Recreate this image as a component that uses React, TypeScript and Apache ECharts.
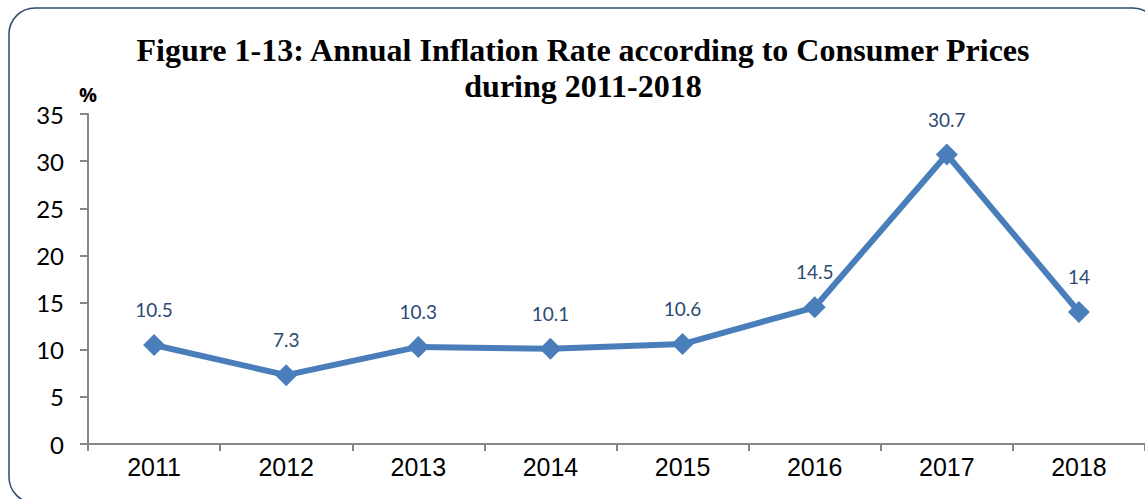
import React, { useEffect, useRef } from "react";
import * as echarts from "echarts";

const years = ["2011", "2012", "2013", "2014", "2015", "2016", "2017", "2018"];
const inflation = [10.5, 7.3, 10.3, 10.1, 10.6, 14.5, 30.7, 14];
const titleLines = ["Figure 1-13: Annual Inflation Rate according to Consumer Prices", "during 2011-2018"];

export default function App() {
  const ref = useRef<HTMLDivElement>(null);
  useEffect(() => {
    const chart = echarts.init(ref.current!, null, { renderer: "svg" });
    chart.setOption({
      animation: false,
      backgroundColor: "#ffffff",
      title: {
        text: titleLines.join("\n"),
        left: 578,
        textAlign: "center",
        top: 27,
        textStyle: {
          fontFamily: "Liberation Serif",
          fontWeight: "bold",
          fontSize: 32,
          lineHeight: 36,
          color: "#000000",
        },
      },
      graphic: [
        {
          type: "rect",
          shape: { x: 9, y: 8, width: 1150, height: 495, r: 26 },
          style: { fill: "none", stroke: "#2F4A70", lineWidth: 1.5 },
          z: -1,
        },
      ],
      grid: { left: 88, right: -12, top: 114, bottom: 55 },
      xAxis: {
        type: "category",
        data: years,
        boundaryGap: true,
        axisLine: { lineStyle: { color: "#868686", width: 2 } },
        axisTick: { show: true, length: 7, lineStyle: { color: "#868686", width: 2 } },
        axisLabel: { fontFamily: "Liberation Sans", fontSize: 25, color: "#000", margin: 10 },
      },
      yAxis: {
        type: "value",
        min: 0,
        max: 35,
        interval: 5,
        name: "%",
        nameLocation: "end",
        nameGap: 10,
        nameTextStyle: { fontFamily: "Open Sans", fontWeight: "bold", fontSize: 20, color: "#000", align: "center", padding: [0, 0, 0, 0] },
        splitLine: { show: false },
        axisLine: { show: true, lineStyle: { color: "#868686", width: 2 } },
        axisTick: { show: true, length: 8, lineStyle: { color: "#868686", width: 2 } },
        axisLabel: { fontFamily: "Lato", fontSize: 24, color: "#000", margin: 24 },
      },
      series: [
        {
          type: "line",
          data: inflation,
          symbol: "diamond",
          symbolSize: 22,
          lineStyle: { color: "#4A7EBB", width: 6 },
          itemStyle: { color: "#4A7EBB" },
          label: {
            show: true,
            position: "top",
            distance: 15,
            fontFamily: "Lato",
            fontSize: 19,
            color: "#2C4A73",
          },
        },
      ],
    });
    return () => chart.dispose();
  }, []);
  return <div ref={ref} style={{ width: 1145, height: 499, position: "absolute", left: 0, top: 0 }} />;
}
